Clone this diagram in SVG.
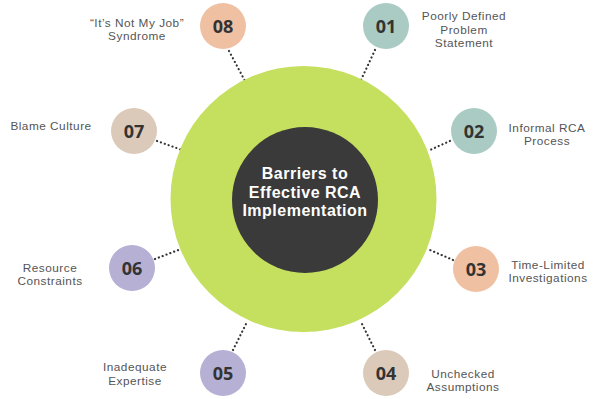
<svg xmlns="http://www.w3.org/2000/svg" width="600" height="399" viewBox="0 0 600 399">
<style>
.lbl{font-family:"Liberation Sans",Arial,sans-serif;font-size:11.8px;letter-spacing:0.5px;fill:#555555;text-anchor:middle}
.num{font-family:"Open Sans","Liberation Sans",sans-serif;font-size:18px;font-weight:700;fill:#333333;text-anchor:middle}
.ttl{font-family:"Liberation Sans",Arial,sans-serif;font-size:16px;letter-spacing:0.5px;font-weight:700;fill:#ffffff;text-anchor:middle}
.dot{stroke:#333333;stroke-width:2.2;stroke-dasharray:0.1 4;stroke-linecap:round;fill:none}
.teal{fill:#A9CBC3}.peach{fill:#F0C0A3}.beige{fill:#DBCAB9}.lav{fill:#B6B0D4}
</style>
<rect width="600" height="399" fill="#ffffff"/>
<g id="connectors">
<line class="dot" x1="229" y1="51" x2="245" y2="81"/>
<line class="dot" x1="375" y1="50" x2="361" y2="80"/>
<line class="dot" x1="157" y1="141" x2="182" y2="150"/>
<line class="dot" x1="450" y1="141" x2="430" y2="150"/>
<line class="dot" x1="155" y1="259" x2="181" y2="249"/>
<line class="dot" x1="453" y1="260" x2="430" y2="250"/>
<line class="dot" x1="233" y1="350" x2="247" y2="322"/>
<line class="dot" x1="375" y1="350" x2="361" y2="322"/>
</g>
<g id="center">
<circle cx="303.5" cy="199" r="133" fill="#C5DF5F"/>
<circle cx="305" cy="200" r="73" fill="#3A3A3A"/>
<text class="ttl" x="305" y="179"><tspan x="305">Barriers to</tspan><tspan x="305" dy="18.5">Effective RCA</tspan><tspan x="305" dy="18.5">Implementation</tspan></text>
</g>
<g id="n01"><circle class="teal" cx="386" cy="26" r="23"/><text class="num" x="386" y="32.5">01</text>
<text class="lbl" x="464" y="20"><tspan x="464">Poorly Defined</tspan><tspan x="464" dy="13.6">Problem</tspan><tspan x="464" dy="13.6">Statement</tspan></text></g>
<g id="n02"><circle class="teal" cx="474" cy="131" r="23"/><text class="num" x="474" y="137.5">02</text>
<text class="lbl" x="547" y="131.5"><tspan x="547">Informal RCA</tspan><tspan x="547" dy="13.6">Process</tspan></text></g>
<g id="n03"><circle class="peach" cx="476" cy="269" r="23"/><text class="num" x="476" y="275.5">03</text>
<text class="lbl" x="548" y="268.5"><tspan x="548">Time-Limited</tspan><tspan x="548" dy="13.6">Investigations</tspan></text></g>
<g id="n04"><circle class="beige" cx="386" cy="373" r="23"/><text class="num" x="386" y="379.5">04</text>
<text class="lbl" x="463" y="377.5"><tspan x="463">Unchecked</tspan><tspan x="463" dy="13.6">Assumptions</tspan></text></g>
<g id="n05"><circle class="lav" cx="223" cy="373" r="23"/><text class="num" x="223" y="379.5">05</text>
<text class="lbl" x="135" y="371"><tspan x="135">Inadequate</tspan><tspan x="135" dy="13.6">Expertise</tspan></text></g>
<g id="n06"><circle class="lav" cx="132" cy="268" r="23"/><text class="num" x="132" y="274.5">06</text>
<text class="lbl" x="50" y="271.5"><tspan x="50">Resource</tspan><tspan x="50" dy="13.6">Constraints</tspan></text></g>
<g id="n07"><circle class="beige" cx="134" cy="131" r="23"/><text class="num" x="134" y="137.5">07</text>
<text class="lbl" x="51" y="130">Blame Culture</text></g>
<g id="n08"><circle class="peach" cx="223" cy="26" r="23"/><text class="num" x="223" y="32.5">08</text>
<text class="lbl" x="137" y="26.5"><tspan x="137">“It’s Not My Job”</tspan><tspan x="137" dy="13.6">Syndrome</tspan></text></g>
</svg>
